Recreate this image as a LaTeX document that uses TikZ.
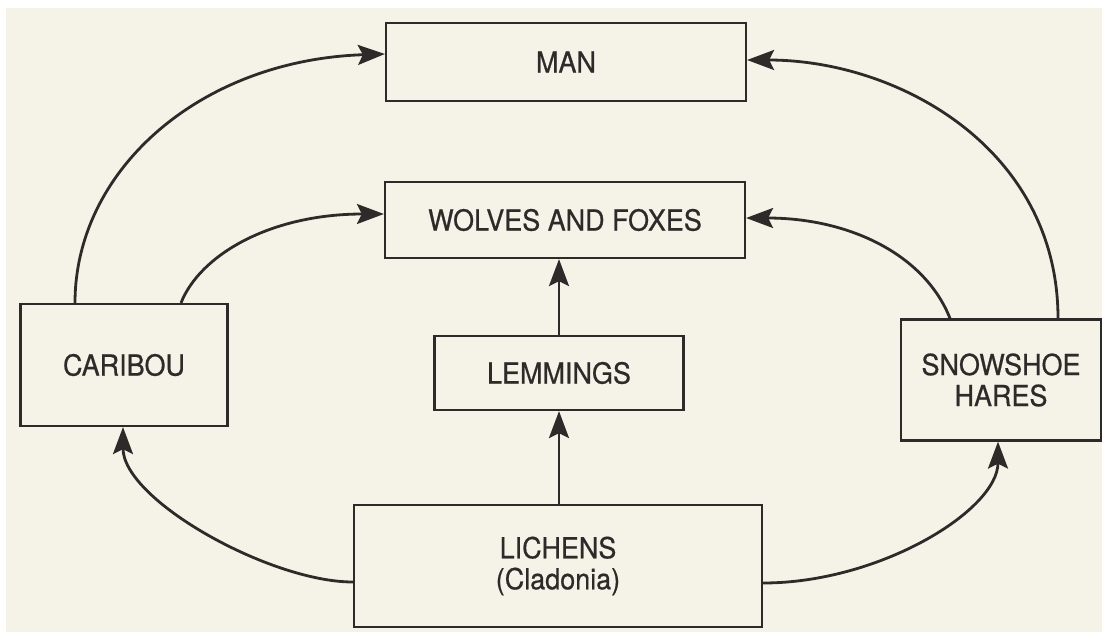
\documentclass[tikz,border=0pt]{standalone}
\usepackage{fontspec}
\setmainfont{TeX Gyre Heros}[FakeStretch=0.93,FakeBold=0.6]
\usetikzlibrary{arrows.meta,calc}
\definecolor{paper}{RGB}{245,242,232}
\definecolor{ink}{RGB}{45,43,41}
\begin{document}
\begin{tikzpicture}[x=1pt,y=-1pt,
  box/.style={draw=ink,line width=2.2pt,fill=paper,inner sep=0pt,align=center,
    text=ink,font=\fontsize{29}{31}\selectfont},
  arr/.style={draw=ink,line width=2.8pt,-{Stealth[length=27pt,width=20pt,inset=5pt]}}]
\useasboundingbox (0,0) rectangle (1102,632);
\fill[white] (0,0) rectangle (1102,632);
\fill[paper] (6,8) rectangle (1102,632);
\node[box,minimum width=360pt,minimum height=78pt] (man) at (566,62) {MAN};
\node[box,minimum width=360pt,minimum height=76pt] (wolves) at (565,220) {WOLVES AND FOXES};
\node[box,minimum width=249pt,minimum height=74pt] (lemmings) at (559,373) {LEMMINGS};
\node[box,minimum width=207pt,minimum height=122pt] (caribou) at (124,365) {CARIBOU};
\node[box,minimum width=200pt,minimum height=121pt] (hares) at (1001,380) {SNOWSHOE\\HARES};
\node[box,minimum width=408pt,minimum height=122pt] (lichens) at (558,566) {LICHENS\\(Cladonia)};
% straight arrows
\draw[arr] (lichens.north -| lemmings.south) -- (lemmings.south);
\draw[arr] (lemmings.north) -- (lemmings.north |- wolves.south);
% caribou arrows
\draw[arr] ([xshift=-49pt]caribou.north) .. controls (75,170) and (200,60) .. ([yshift=8pt]man.west);
\draw[arr] ([xshift=57pt]caribou.north) .. controls (200,255) and (270,214) .. ([yshift=6pt]wolves.west);
\draw[arr] ([yshift=-16pt]lichens.west) .. controls (270,582) and (123,500) .. ([xshift=-1pt]caribou.south);
% hares arrows
\draw[arr] ([yshift=-17pt]lichens.east) .. controls (880,583) and (998,510) .. ([xshift=-3pt]hares.south);
\draw[arr] ([xshift=57pt]hares.north) .. controls (1058,150) and (900,60) .. ([yshift=2pt]man.east);
\draw[arr] ([xshift=-51pt]hares.north) .. controls (925,255) and (850,218) .. ([yshift=2pt]wolves.east);
\end{tikzpicture}
\end{document}
